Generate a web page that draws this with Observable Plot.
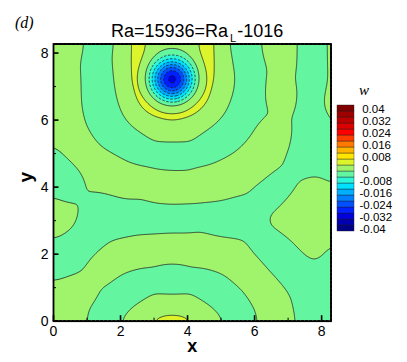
<!DOCTYPE html>
<html><head><meta charset="utf-8">
<script src="https://cdn.jsdelivr.net/npm/d3@7"></script>
<script src="https://cdn.jsdelivr.net/npm/@observablehq/plot@0.6"></script>
<style>
html,body{margin:0;padding:0;background:#fff;}
#wrap{position:relative;width:407px;height:362px;overflow:hidden;font-family:"Liberation Sans",Arial,sans-serif;color:#000;background:#fff;}
#chart{position:absolute;left:0;top:0;}
#legend{position:absolute;left:334px;top:93px;}
.title{position:absolute;left:111px;top:21.5px;font-size:18px;line-height:1;white-space:nowrap;}
.sub{font-size:11px;position:relative;top:5px;margin:0 1px 0 2px;}
.panel{position:absolute;left:15px;top:15px;font-family:"Liberation Serif",serif;font-style:italic;font-size:16px;line-height:1;}
.wlab{position:absolute;left:359px;top:83px;font-family:"Liberation Serif",serif;font-style:italic;font-size:15px;line-height:1;}
</style></head>
<body>
<div id="wrap">
  <div id="chart"></div>
  <div id="legend"></div>
  <div class="panel">(d)</div>
  <div class="title">Ra=15936=Ra<span class="sub">L</span>-1016</div>
  <div class="wlab">w</div>
</div>
<script>
// ---- contour levels, colours, ticks ----
const levels = [-0.04,-0.036,-0.032,-0.028,-0.024,-0.02,-0.016,-0.012,-0.008,-0.004,0,0.004,0.008,0.012,0.016,0.02,0.024,0.028,0.032,0.036,0.04];
const palette = ["#000088","#0000b0","#0000dc","#0020ff","#0050ff","#0080ff","#00b0ff","#00e0ff","#2cf5d8","#64f5a0","#a0f46c","#dcf42c","#ffe600","#ffb400","#ff7800","#ff3c00","#ff0000","#dc0000","#bc0000","#9c0000","#800000"];
const negLevels = [-0.036,-0.032,-0.028,-0.024,-0.02,-0.016,-0.012,-0.008,-0.004];
const posLevels = [0,0.004,0.008,0.012,0.016,0.02,0.024,0.028,0.032,0.036];
const legendTicks = [0.04,0.032,0.024,0.016,0.008,0,-0.008,-0.016,-0.024,-0.032,-0.04];
const xTicks = [0,2,4,6,8];
const yTicks = [0,2,4,6,8];
const minorTicks = [1,3,5,7];

// ---- field samples: points on contour lines and band centres ----
const dipCenter = [[3.54,7.22]];                                   // w = -0.038
const dipRing0 = [[3.74,7.22],[3.54,7.42],[3.34,7.22],[3.54,7.02],[3.681,7.361],[3.399,7.361],[3.399,7.079],[3.681,7.079]]; // -0.033
const dipRing1 = [[3.96,7.22],[3.837,7.517],[3.54,7.64],[3.243,7.517],[3.12,7.22],[3.243,6.923],[3.54,6.80],[3.837,6.923]]; // -0.021
const dipRing2 = [[4.22,7.22],[4.129,7.56],[3.88,7.809],[3.54,7.90],[3.20,7.809],[2.951,7.56],[2.86,7.22],[2.951,6.88],[3.20,6.631],[3.54,6.54],[3.88,6.631],[4.129,6.88]]; // -0.004
const zeroRing = [[4.31,7.22],[4.207,7.605],[3.925,7.887],[3.54,7.99],[3.155,7.887],[2.873,7.605],[2.77,7.22],[2.873,6.835],[3.155,6.553],[3.54,6.45],[3.925,6.553],[4.207,6.835]]; // 0
const yellowInner = [[4.42,7.22],[4.40,7.6],[4.35,7.95],[4.33,8.27],[2.75,8.27],[2.73,7.95],[2.68,7.6],[2.66,7.22],[2.778,6.78],[3.10,6.458],[3.54,6.34],[3.98,6.458],[4.302,6.78]]; // 0.004
const yellowPeak = [[4.61,7.22],[4.60,7.75],[4.58,8.27],[2.51,8.27],[2.48,7.75],[2.47,7.22],[2.613,6.685],[3.005,6.293],[3.54,6.15],[4.075,6.293],[4.467,6.685]]; // 0.0062
const yellowOuter = [[4.81,7.22],[4.83,7.75],[4.84,8.27],[2.30,8.27],[2.28,7.75],[2.27,7.22],[2.44,6.585],[2.905,6.12],[3.54,5.95],[4.175,6.12],[4.64,6.585]]; // 0.004
const topInnerGreen = [[3.1,8.27],[3.54,8.27],[3.98,8.27]]; // 0.0018
const ringL2 = [[1.90,8.27],[1.88,7.3],[1.96,6.8],[2.1,6.3],[2.4,5.85],[2.90,5.52],[3.54,5.37],[4.15,5.5],[4.69,5.88],[5.12,6.35],[5.33,6.9],[5.36,7.3],[5.25,7.8],[5.14,8.27]]; // 0
const greenBand1 = [[2.08,8.27],[2.08,7.5],[2.12,6.9],[2.46,6.14],[3.54,5.66],[4.62,6.14],[5.05,6.9],[5.08,7.5],[4.99,8.27]]; // 0.0018
const aquaBand1 = [[1.4,8.27],[1.35,7.22],[1.38,6.5],[1.6,5.7],[2.5,5.15],[3.54,4.93],[4.6,5.15],[5.45,5.55],[5.72,6.4],[5.85,7.22],[5.67,8.27]]; // -0.0015
const ringL3 = [[0.90,8.27],[0.82,7.7],[0.80,7.22],[0.81,6.58],[0.95,5.9],[1.40,5.22],[2.30,4.72],[3.19,4.54],[3.54,4.50],[4.09,4.52],[4.75,4.7],[5.29,4.98],[5.8,5.45],[6.12,5.95],[6.3,6.5],[6.34,6.95],[6.30,7.6],[6.19,8.27]]; // 0
const greenBand2 = [[0,8.27],[0.45,8.27],[0,7.0],[0.38,7.0],[0,6.0],[0.35,6.0],[0.6,5.3],[1.2,4.7],[2.2,4.17],[3.54,3.98],[4.8,4.15],[5.7,4.55],[6.45,5.5],[6.82,6.9],[6.74,8.27]]; // 0.0015
const lineL4 = [[0,5.29],[0.45,4.85],[0.9,4.38],[1.4,3.88],[2.4,3.6],[3.4,3.47],[4.09,3.48],[4.89,3.55],[5.69,3.79],[6.3,4.2],[6.8,4.65],[7.05,5.2],[7.2,6.0],[7.28,7.0],[7.29,8.27]]; // 0
const aquaRight = [[7.72,8.27],[7.78,7.0],[7.75,6.0],[7.7,5.0],[8.28,4.7],[6.6,3.85],[6.5,2.3],[7.3,1.6],[7.7,1.0],[7.75,0],[8.28,1.3]]; // -0.0015
const aquaCentral = [[0,4.5],[0.35,4.2],[1.3,3.1],[2.4,3.07],[3.54,3.05],[4.7,3.08],[5.6,3.12],[1.1,2.5],[0.55,1.85],[0,1.8]]; // -0.0015
const peninsula = [[0,3.75],[0.5,3.45],[0.745,3.1],[0.5,2.72],[0,2.41]]; // 0
const peninsulaIn = [[0,3.1],[0.35,3.1]]; // 0.0012
const blob = [[8.28,4.10],[7.89,4.39],[7.39,4.19],[6.79,3.50],[6.39,3.10],[6.49,2.80],[7.09,2.31],[7.59,1.81],[7.89,1.76],[8.19,2.21],[8.28,2.41]]; // 0
const blobIn = [[7.6,3.1],[8.28,3.1],[7.1,3.2],[7.8,2.4],[7.9,3.85]]; // 0.0012
const lineL5 = [[8.19,8.27],[8.2,7.2],[8.22,6.2],[8.28,5.3]]; // 0
const cornerTR = [[8.28,8.27],[8.28,6.5]]; // 0.0012
const lineL6 = [[0,1.18],[0.3,1.28],[0.7,1.45],[1.2,2.0],[1.7,2.4],[2.5,2.58],[3.54,2.65],[4.6,2.6],[5.59,2.45],[6.09,1.9],[6.69,1.21],[7.09,0.71],[7.24,0]]; // 0
const greenBand3 = [[0,0],[0.45,0],[0,0.6],[0.9,1.0],[1.7,1.78],[2.6,2.1],[3.54,2.18],[4.5,2.1],[5.4,1.83],[6.0,1.2],[6.5,0.6],[6.66,0]]; // 0.0015
const lineL8 = [[0.98,0],[1.1,0.42],[1.4,0.9],[2.0,1.41],[3.0,1.7],[3.54,1.72],[4.09,1.7],[5.09,1.41],[5.7,0.9],[5.99,0.42],[6.09,0]]; // 0
const aquaLow = [[1.49,0],[1.94,0.6],[2.5,1.05],[3.54,1.22],[4.58,1.05],[5.14,0.6],[5.59,0]]; // -0.0015
const lineL9 = [[2.01,0],[2.39,0.4],[2.94,0.7],[3.54,0.76],[4.14,0.7],[4.69,0.4],[5.07,0]]; // 0
const greenLow = [[2.42,0],[2.8,0.33],[3.54,0.48],[4.28,0.33],[4.67,0]]; // 0.0018
const yellowLowOuter = [[2.82,0],[3.1,0.14],[3.54,0.22],[3.98,0.14],[4.26,0]]; // 0.004
const yellowLowPeak = [[3.2,0],[3.54,0],[3.88,0]]; // 0.0058
const lineL7 = [[8.2,0],[8.28,0.25]]; // 0
const cornerBR = [[8.28,0]]; // 0.0008

const groups = [
  [dipCenter,-0.038],[dipRing0,-0.033],[dipRing1,-0.021],[dipRing2,-0.004],[zeroRing,0],
  [yellowInner,0.004],[yellowPeak,0.0062],[yellowOuter,0.004],[topInnerGreen,0.0018],
  [ringL2,0],[greenBand1,0.0018],[aquaBand1,-0.0015],[ringL3,0],[greenBand2,0.0015],
  [lineL4,0],[aquaRight,-0.0015],[aquaCentral,-0.0015],[peninsula,0],[peninsulaIn,0.0012],
  [blob,0],[blobIn,0.0012],[lineL5,0],[cornerTR,0.0012],[lineL6,0],[greenBand3,0.0015],
  [lineL8,0],[aquaLow,-0.0015],[lineL9,0],[greenLow,0.0018],[yellowLowOuter,0.004],
  [yellowLowPeak,0.0058],[lineL7,0],[cornerBR,0.0008]
];
const samples = groups.flatMap(([pts, w]) => pts.map(([x, y]) => ({x, y, w})));

const W = 407, H = 362, mL = 53, mR = 76.5, mT = 43.5, mB = 41.3;
const frameW = W - mL - mR, frameH = H - mT - mB;
const field = {x: "x", y: "y", value: "w", interpolate: "barycentric", pixelSize: 1, blur: 6};

const chart = Plot.plot({
  width: W, height: H,
  marginLeft: mL, marginRight: mR, marginTop: mT, marginBottom: mB,
  x: {domain: [0, 8.28]},
  y: {domain: [0, 8.27]},
  color: {type: "ordinal", domain: levels, range: palette},
  style: {fontFamily: "Liberation Sans, Arial, sans-serif", color: "#000", background: "transparent"},
  marks: [
    Plot.frame({fill: palette[1], stroke: "none"}),
    Plot.contour(samples, {...field, thresholds: levels, fill: "value", stroke: "none"}),
    Plot.contour(samples, {...field, thresholds: posLevels, fill: "none", stroke: "#1a1a1a", strokeWidth: 0.75}),
    Plot.contour(samples, {...field, thresholds: negLevels, fill: "none", stroke: "#1a1a1a", strokeWidth: 0.75, strokeDasharray: "2.5,1.6"}),
    Plot.frame({stroke: "#000", strokeWidth: 1.8}),
    Plot.tickX(xTicks, {x: d => d, insetTop: frameH - 5.5, stroke: "#000", strokeWidth: 1.6}),
    Plot.tickX(minorTicks, {x: d => d, insetTop: frameH - 3, stroke: "#000", strokeWidth: 1}),
    Plot.tickY(yTicks, {y: d => d, insetRight: frameW - 5.5, stroke: "#000", strokeWidth: 1.6}),
    Plot.tickY(minorTicks, {y: d => d, insetRight: frameW - 3, stroke: "#000", strokeWidth: 1}),
    Plot.axisX({ticks: xTicks, tickSize: 0, tickPadding: 5, fontSize: 14, label: null}),
    Plot.axisY({ticks: yTicks, tickSize: 0, tickPadding: 5, fontSize: 14, label: null}),
    Plot.text(["x"], {text: d => d, frameAnchor: "bottom", dy: 31, fontSize: 18, fontWeight: "bold"}),
    Plot.text(["y"], {text: d => d, frameAnchor: "left", dx: -28, rotate: -90, fontSize: 19, fontWeight: "bold"})
  ]
});
document.getElementById("chart").appendChild(chart);

// ---- legend (stacked level boxes) ----
const levelsDesc = levels.slice().reverse();
const legend = Plot.plot({
  width: 73, height: 150, margin: 0,
  x: {type: "band", domain: ["bar"], range: [3, 20], padding: 0, axis: null},
  y: {type: "band", domain: levelsDesc, range: [6.7, 143.3], padding: 0, axis: null},
  color: {type: "ordinal", domain: levels, range: palette},
  style: {fontFamily: "Liberation Sans, Arial, sans-serif", color: "#000", background: "transparent"},
  marks: [
    Plot.cell(levels, {x: () => "bar", y: d => d, fill: d => d, stroke: "#222", strokeWidth: 0.4}),
    Plot.text(legendTicks.filter(d => d >= 0), {x: () => "bar", y: d => d, text: d => String(d), textAnchor: "start", dx: 16.2, dy: 1, fontSize: 11.5}),
    Plot.text(legendTicks.filter(d => d < 0), {x: () => "bar", y: d => d, text: d => String(d), textAnchor: "start", dx: 13.5, dy: 1, fontSize: 11.5})
  ]
});
document.getElementById("legend").appendChild(legend);
</script>
</body></html>
